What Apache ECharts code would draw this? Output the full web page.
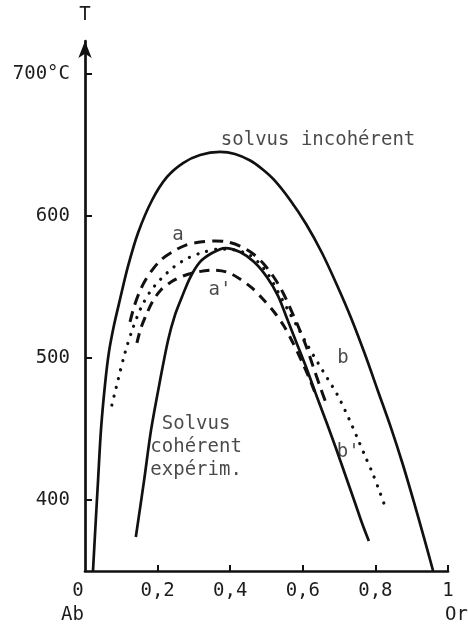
<!DOCTYPE html>
<html>
<head>
<meta charset="utf-8">
<script src="https://cdn.jsdelivr.net/npm/echarts@6/dist/echarts.min.js"></script>
<style>
  html, body { margin: 0; padding: 0; background: #fff; }
  #chart { width: 468px; height: 626px; }
</style>
</head>
<body>
<div id="chart"></div>
<script>
// Axis ticks: composition Ab–Or (x) and temperature in °C (y)
const xTicks = [0, 0.2, 0.4, 0.6, 0.8, 1];
const tTicks = [400, 500, 600, 700];

// Incoherent (strain-free) solvus, [Or fraction, T °C]
const solvusIncoherent = [
  [0.022, 350], [0.029, 382.4], [0.036, 414], [0.044, 449.3], [0.055, 480.9],
  [0.066, 504.1], [0.080, 523.1], [0.096, 540.7], [0.118, 564], [0.146, 587.9],
  [0.185, 611.1], [0.226, 627.3], [0.270, 637.1], [0.317, 642.8], [0.372, 644.9],
  [0.413, 643.5], [0.455, 638.9], [0.488, 632.9], [0.521, 625.2], [0.565, 611.1],
  [0.609, 594.2], [0.653, 573.8], [0.694, 551.3], [0.733, 528.1], [0.771, 502.7],
  [0.807, 476.7], [0.843, 450.7], [0.876, 424.6], [0.906, 398.6], [0.934, 373.3],
  [0.959, 350]
];

// Experimental coherent solvus
const solvusCoherent = [
  [0.140, 373.9], [0.163, 414.1], [0.182, 449.3], [0.207, 484.4], [0.229, 512.6],
  [0.248, 530.2], [0.267, 542.8], [0.289, 556.2], [0.317, 567.5], [0.350, 573.8],
  [0.386, 577.3], [0.427, 574.5], [0.466, 567.5], [0.501, 556.9], [0.532, 543.5],
  [0.556, 528.1], [0.584, 509.8], [0.612, 491.5], [0.639, 472.5], [0.667, 453.5],
  [0.694, 434.5], [0.719, 416.2], [0.744, 397.9], [0.763, 383.8], [0.782, 371.1]
];

// Curve a (long dashes)
const curveA = [
  [0.124, 525.3], [0.135, 535.8], [0.149, 545.7], [0.165, 554.1], [0.185, 561.8],
  [0.209, 568.9], [0.240, 574.5], [0.278, 579.4], [0.317, 581.5], [0.358, 582.3],
  [0.394, 581.5], [0.427, 578.7], [0.460, 573.8], [0.490, 566.8], [0.518, 557.6],
  [0.543, 547.1], [0.565, 535.1], [0.587, 522.4], [0.609, 508.4], [0.628, 494.3],
  [0.647, 480.2], [0.667, 466.1]
];

// Curve a' (dashes, lower branch)
const curveAPrime = [
  [0.143, 510.5], [0.154, 521], [0.171, 531.6], [0.187, 540], [0.209, 547.8],
  [0.237, 553.4], [0.270, 557.6], [0.309, 560.4], [0.350, 561.8], [0.391, 560.4],
  [0.427, 555.5], [0.460, 549.2], [0.490, 541.4], [0.521, 532.3], [0.548, 522.4],
  [0.573, 510.5], [0.598, 497.1], [0.620, 484.4], [0.639, 471.8]
];

// Curve b (dotted)
const curveB = [
  [0.074, 466.8], [0.091, 484.4], [0.110, 503.4], [0.132, 521], [0.154, 535.1],
  [0.179, 546.4], [0.209, 555.5], [0.245, 564], [0.284, 570.3], [0.328, 574.5],
  [0.372, 576.6], [0.413, 575.9], [0.449, 573.1], [0.477, 567.5], [0.504, 559],
  [0.532, 546.4], [0.559, 533.7], [0.587, 521], [0.614, 508.4], [0.642, 496.4],
  [0.669, 485.1], [0.694, 474.6], [0.716, 463.3], [0.736, 452.1], [0.755, 440.8],
  [0.774, 429.5], [0.793, 418.3], [0.810, 407], [0.826, 395.8]
];

// Text annotations placed in data coordinates
const annotationTexts = ['solvus incohérent', 'a', "a'", 'b', "b'", 'Solvus\ncohérent\nexpérim.'];
const annotationX = [0.642, 0.256, 0.372, 0.711, 0.725, 0.306];
const annotationT = [653, 586.5, 548, 500, 434, 437];

const FONT = '"DejaVu Sans Mono", "Liberation Mono", monospace';
const INK = '#111';
const TEXT = '#1c1c1c';
const FS = 19;

const fmtX = v => (v === 0 ? '{z|0}' : String(v).replace('.', ','));

const solid = { color: INK, width: 2.7, type: 'solid' };

function curve(name, data, lineStyle) {
  return {
    name, type: 'line', data,
    smooth: 0.3, symbol: 'none', showSymbol: false,
    lineStyle, z: 3, silent: true
  };
}

const chart = echarts.init(document.getElementById('chart'), null, { renderer: 'canvas' });

chart.setOption({
  animation: false,
  backgroundColor: '#fff',
  grid: { left: 85, right: 20, top: 41, bottom: 55, containLabel: false },
  xAxis: {
    type: 'value', min: 0, max: 1,
    axisLine: { show: true, onZero: false, lineStyle: { color: INK, width: 2.7 } },
    axisTick: { show: true, inside: true, length: 6, customValues: xTicks.slice(1),
                lineStyle: { color: INK, width: 2 } },
    axisLabel: {
      customValues: xTicks, margin: 11,
      color: TEXT, fontFamily: FONT, fontSize: FS,
      formatter: fmtX,
      rich: { z: { color: TEXT, fontFamily: FONT, fontSize: FS, padding: [0, 14, 0, 0] } }
    },
    splitLine: { show: false }
  },
  yAxis: {
    type: 'value', min: 350, max: 723,
    name: 'T', nameLocation: 'end', nameGap: 16,
    nameTextStyle: { color: TEXT, fontFamily: FONT, fontSize: FS, align: 'center' },
    axisLine: { show: true, onZero: false, symbol: ['none', 'arrow'], symbolSize: [10, 17],
                lineStyle: { color: INK, width: 2.7 } },
    axisTick: { show: true, inside: true, length: 7, customValues: tTicks,
                lineStyle: { color: INK, width: 2 } },
    axisLabel: {
      customValues: tTicks, margin: 15,
      color: TEXT, fontFamily: FONT, fontSize: FS,
      formatter: v => (v === 700 ? '700°C' : String(v))
    },
    splitLine: { show: false }
  },
  graphic: [
    { type: 'text', left: 61, top: 606,
      style: { text: 'Ab', fill: TEXT, font: FS + 'px ' + FONT } },
    { type: 'text', left: 445, top: 606,
      style: { text: 'Or', fill: TEXT, font: FS + 'px ' + FONT } }
  ],
  series: [
    curve('solvus incohérent', solvusIncoherent, solid),
    curve('solvus cohérent', solvusCoherent, solid),
    curve('a', curveA, { color: INK, width: 3, type: [11, 7], cap: 'butt' }),
    curve("a'", curveAPrime, { color: INK, width: 3, type: [10, 7], cap: 'butt' }),
    curve('b', curveB, { color: INK, width: 3.2, type: [0.1, 9], cap: 'round' }),
    {
      type: 'scatter', symbolSize: 0, silent: true, z: 5,
      data: annotationTexts.map((t, i) => ({ name: t, value: [annotationX[i], annotationT[i]] })),
      label: {
        show: true, position: 'inside', formatter: p => p.name,
        color: TEXT, fontFamily: FONT, fontSize: FS, lineHeight: 23, align: 'center'
      }
    }
  ]
});
</script>
</body>
</html>
